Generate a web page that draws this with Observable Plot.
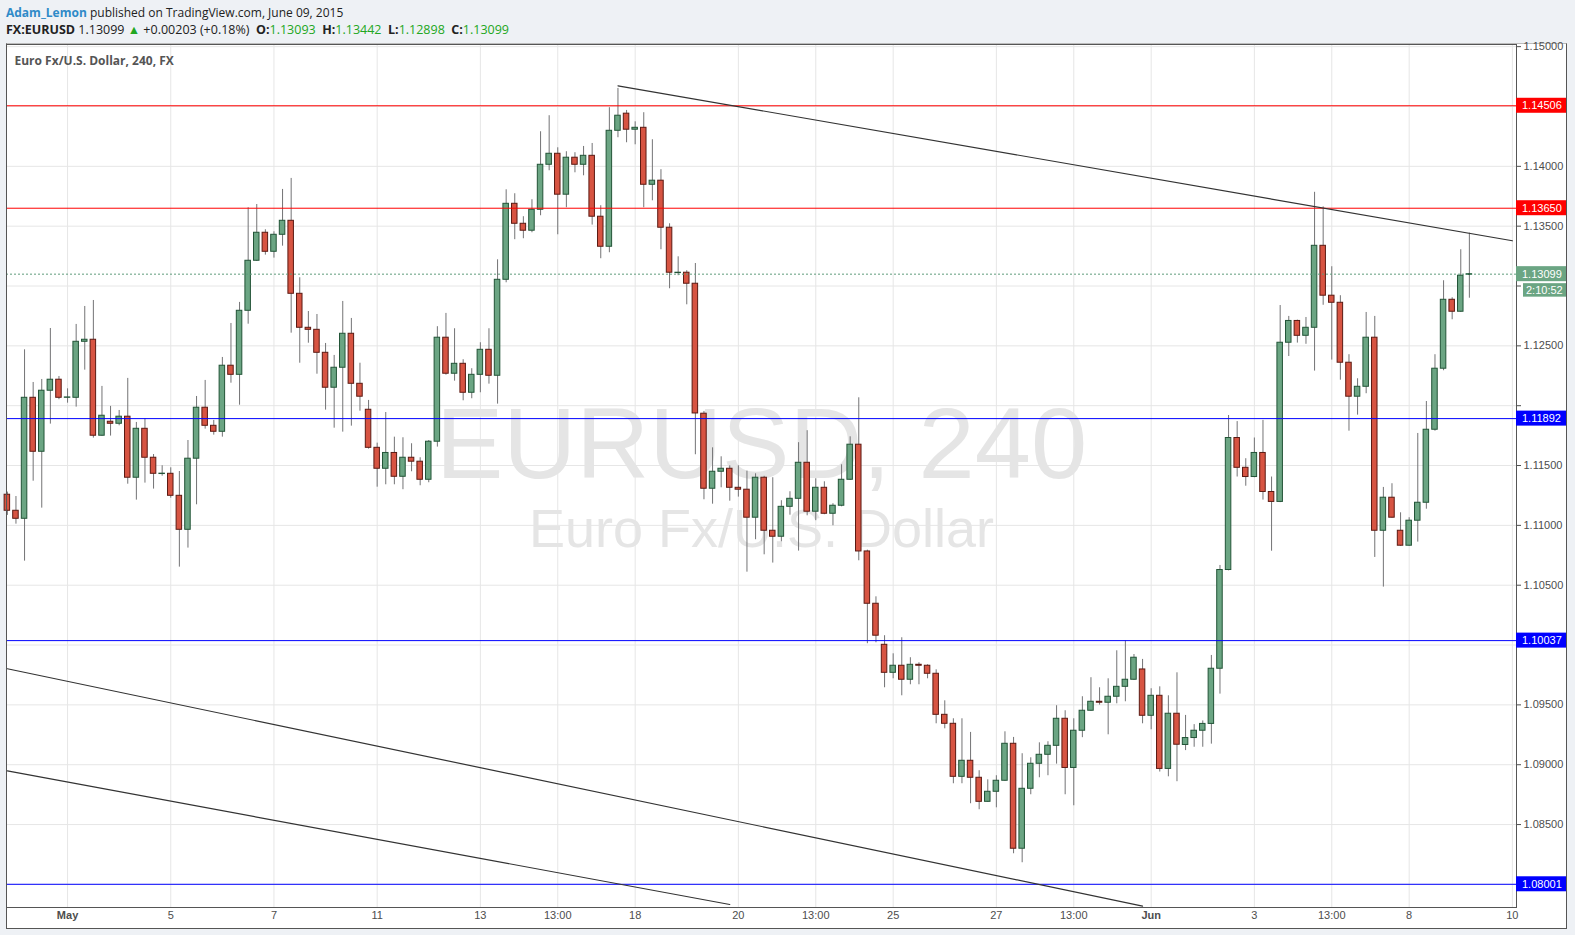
<!DOCTYPE html>
<html>
<head>
<meta charset="utf-8">
<script src="https://cdn.jsdelivr.net/npm/d3@7"></script>
<script src="https://cdn.jsdelivr.net/npm/@observablehq/plot@0.6"></script>
<style>
  html, body { margin: 0; padding: 0; }
  body { width: 1575px; height: 935px; background: #eef1f5; position: relative; overflow: hidden; font-family: "Liberation Sans Narrow", "Open Sans", sans-serif; }
  .l1 { position: absolute; left: 6px; top: 4px; font-size: 12px; color: #222; white-space: nowrap; }
  .l1 .user { color: #2f8ac8; font-weight: bold; }
  .l2 { position: absolute; left: 6px; top: 21px; font-size: 12.5px; color: #222; white-space: nowrap; }
  .l2 b { font-weight: bold; }
  .l2 .g { color: #22a722; }
  .box { position: absolute; left: 6px; top: 43px; width: 1561px; height: 886px; box-sizing: border-box; border: 1px solid #555; border-top-color: #bbb; background: #fff; }
  #chart { position: absolute; left: 0; top: 43px; }
</style>
</head>
<body>
<div class="l1"><span class="user">Adam_Lemon</span> published on TradingView.com, June 09, 2015</div>
<div class="l2"><b>FX:EURUSD</b> 1.13099 <span class="g">&#9650;</span> +0.00203 (+0.18%) &nbsp;<b>O:</b><span class="g">1.13093</span> &nbsp;<b>H:</b><span class="g">1.13442</span> &nbsp;<b>L:</b><span class="g">1.12898</span> &nbsp;<b>C:</b><span class="g">1.13099</span></div>
<div class="box"></div>
<div id="chart"></div>
<script>
// ---- Data (EUR/USD, 240-minute candles) ----
const opens = [1.11256,1.11122,1.11055,1.12066,1.11615,1.12125,1.12217,1.12066,1.12066,1.12534,
1.12551,1.11749,1.11866,1.11849,1.11908,1.11398,1.11807,1.11565,1.11429,1.11431,
1.11247,1.10963,1.11557,1.11983,1.11832,1.11782,1.12334,1.12258,1.12793,1.13211,
1.13445,1.13286,1.13428,1.13545,1.12935,1.12651,1.12634,1.12442,1.12150,1.12317,
1.12601,1.12183,1.11966,1.11648,1.11473,1.11605,1.11406,1.11565,1.11532,1.11381,
1.11699,1.12568,1.12267,1.12350,1.12108,1.12258,1.12467,1.12250,1.13052,1.13687,
1.13520,1.13462,1.13637,1.14013,1.14105,1.13763,1.14072,1.14013,1.14088,1.13579,
1.13328,1.14297,1.14440,1.14306,1.14322,1.13846,1.13880,1.13487,1.13108,1.13111,
1.13019,1.11933,1.11306,1.11448,1.11473,1.11314,1.11298,1.11064,1.11398,1.10955,
1.10905,1.11155,1.11222,1.11523,1.11114,1.11314,1.11097,1.11164,1.11381,1.11674,
1.10782,1.10345,1.10002,1.09768,1.09827,1.09710,1.09835,1.09827,1.09760,1.09417,
1.09342,1.08899,1.09033,1.08891,1.08690,1.08774,1.08866,1.09175,1.08298,1.08799,
1.09008,1.09083,1.09158,1.09384,1.08973,1.09284,1.09451,1.09526,1.09518,1.09568,
1.09651,1.09710,1.09796,1.09409,1.09576,1.08965,1.09426,1.09165,1.09223,1.09284,
1.09341,1.09802,1.10627,1.11730,1.11481,1.11404,1.11605,1.11279,1.11196,1.12526,
1.12708,1.12584,1.12651,1.13336,1.12919,1.12860,1.12359,1.12075,1.12158,1.12568,
1.10955,1.11231,1.10955,1.10830,1.11039,1.11189,1.11799,1.12309,1.12885,1.12785,
1.13093];
const highs = [1.11278,1.11241,1.12467,1.12194,1.12219,1.12645,1.12244,1.12141,1.12679,1.12829,
1.12879,1.12161,1.11994,1.11960,1.12228,1.11860,1.11891,1.11592,1.11498,1.11481,
1.11450,1.11709,1.12077,1.12211,1.11877,1.12403,1.12687,1.12863,1.13654,1.13681,
1.13470,1.13453,1.13807,1.13899,1.13069,1.12787,1.12762,1.12520,1.12420,1.12871,
1.12729,1.12355,1.12044,1.11687,1.11943,1.11737,1.11732,1.11682,1.11565,1.11709,
1.12660,1.12771,1.12643,1.12384,1.12309,1.12526,1.12643,1.13219,1.13804,1.13771,
1.13579,1.13721,1.14289,1.14423,1.14155,1.14122,1.14114,1.14166,1.14191,1.13671,
1.14490,1.14651,1.14467,1.14372,1.14448,1.14222,1.13972,1.13520,1.13244,1.13128,
1.13188,1.11952,1.11648,1.11573,1.11498,1.11498,1.11453,1.11431,1.11410,1.11398,
1.11206,1.11281,1.11691,1.11791,1.11389,1.11364,1.11181,1.11506,1.11740,1.12066,
1.10793,1.10403,1.10078,1.09927,1.10061,1.09894,1.09852,1.09835,1.09793,1.09534,
1.09384,1.09384,1.09270,1.08950,1.08874,1.08908,1.09275,1.09228,1.09092,1.09058,
1.09183,1.09192,1.09493,1.09451,1.09384,1.09568,1.09727,1.09643,1.09718,1.09952,
1.10036,1.09921,1.09880,1.09635,1.09651,1.09576,1.09768,1.09412,1.09335,1.09366,
1.09913,1.10665,1.11918,1.11867,1.11557,1.11730,1.11877,1.11404,1.12837,1.12746,
1.12715,1.12737,1.13783,1.13661,1.13161,1.12919,1.12426,1.12225,1.12779,1.12746,
1.11317,1.11348,1.11105,1.11064,1.11768,1.12035,1.12426,1.13044,1.12902,1.13303,
1.13442];
const lows = [1.11083,1.11010,1.10701,1.11369,1.11144,1.11846,1.12050,1.12021,1.11988,1.12297,
1.11729,1.11745,1.11746,1.11832,1.11344,1.11211,1.11353,1.11303,1.11411,1.11227,
1.10651,1.10810,1.11172,1.11804,1.11754,1.11737,1.12188,1.12004,1.12681,1.13205,
1.13258,1.13233,1.13333,1.12606,1.12355,1.12522,1.12263,1.11963,1.11812,1.11779,
1.11829,1.11954,1.11637,1.11319,1.11339,1.11339,1.11298,1.11448,1.11331,1.11356,
1.11654,1.12255,1.12205,1.12041,1.12058,1.12108,1.12180,1.12013,1.13027,1.13387,
1.13395,1.13445,1.13587,1.13963,1.13428,1.13654,1.13946,1.13921,1.13509,1.13228,
1.13278,1.14239,1.14197,1.14180,1.13654,1.13712,1.13303,1.12977,1.13086,1.12843,
1.11590,1.11214,1.11177,1.11314,1.11202,1.11236,1.10609,1.10880,1.10754,1.10685,
1.10863,1.11085,1.10785,1.11080,1.11039,1.11089,1.10997,1.11155,1.11375,1.10704,
1.10011,1.10019,1.09643,1.09718,1.09576,1.09668,1.09668,1.09718,1.09342,1.09300,
1.08841,1.08841,1.08674,1.08624,1.08685,1.08640,1.08860,1.08256,1.08181,1.08749,
1.08891,1.08908,1.09005,1.08749,1.08657,1.09226,1.09445,1.09498,1.09250,1.09509,
1.09526,1.09705,1.09342,1.09292,1.08939,1.08899,1.08858,1.09118,1.09146,1.09146,
1.09172,1.09590,1.10620,1.11404,1.11327,1.11398,1.11211,1.10784,1.11190,1.12411,
1.12523,1.12513,1.12289,1.12839,1.12381,1.12213,1.11787,1.11921,1.12100,1.10732,
1.10484,1.11060,1.10825,1.10825,1.10860,1.11135,1.11787,1.12292,1.12718,1.12780,
1.12898];
const closes = [1.11122,1.11055,1.12066,1.11615,1.12125,1.12217,1.12066,1.12069,1.12534,1.12551,
1.11749,1.11916,1.11849,1.11908,1.11398,1.11807,1.11565,1.11431,1.11432,1.11247,
1.10963,1.11557,1.11983,1.11832,1.11782,1.12334,1.12258,1.12793,1.13211,1.13445,
1.13286,1.13428,1.13545,1.12935,1.12651,1.12634,1.12442,1.12150,1.12317,1.12601,
1.12183,1.12075,1.11648,1.11473,1.11605,1.11406,1.11565,1.11532,1.11381,1.11699,
1.12568,1.12267,1.12350,1.12108,1.12258,1.12467,1.12250,1.13052,1.13687,1.13520,
1.13462,1.13637,1.14013,1.14105,1.13763,1.14072,1.14013,1.14088,1.13579,1.13328,
1.14297,1.14423,1.14306,1.14322,1.13846,1.13880,1.13487,1.13111,1.13111,1.13019,
1.11935,1.11306,1.11448,1.11473,1.11314,1.11298,1.11064,1.11398,1.10955,1.10905,
1.11155,1.11222,1.11523,1.11114,1.11314,1.11097,1.11164,1.11381,1.11674,1.10782,
1.10345,1.10078,1.09768,1.09827,1.09710,1.09835,1.09827,1.09760,1.09417,1.09342,
1.08899,1.09033,1.08891,1.08690,1.08774,1.08866,1.09175,1.08298,1.08799,1.09008,
1.09083,1.09158,1.09384,1.08973,1.09284,1.09451,1.09526,1.09518,1.09568,1.09651,
1.09710,1.09894,1.09409,1.09576,1.08965,1.09426,1.09167,1.09223,1.09284,1.09341,
1.09802,1.10627,1.11730,1.11481,1.11404,1.11605,1.11279,1.11196,1.12526,1.12708,
1.12584,1.12651,1.13336,1.12919,1.12860,1.12359,1.12075,1.12158,1.12568,1.10955,
1.11231,1.11064,1.10830,1.11039,1.11189,1.11799,1.12309,1.12885,1.12785,1.13086,
1.13099];

// x axis: candle index of each time label
const xTickIdx = [7, 19, 31, 43, 55, 64, 73, 85, 94, 103, 115, 124, 133, 145, 154, 163, 175];
const xTickLabels = ["May", "5", "7", "11", "13", "13:00", "18", "20", "13:00", "25", "27", "13:00", "Jun", "3", "13:00", "8", "10"];
const monthLabels = ["May", "Jun"];

// y axis
const yTicks = [1.08, 1.085, 1.09, 1.095, 1.10, 1.105, 1.11, 1.115, 1.12, 1.125, 1.13, 1.135, 1.14, 1.145, 1.15];
const yHiddenLabels = [1.08, 1.10, 1.12, 1.13, 1.145];
const yDomain = [1.07807, 1.15018];
const xDomain = [-0.1, 175.48];

// horizontal levels and drawings
const resistanceLevels = [1.14506, 1.13650];
const supportLevels = [1.11892, 1.10037, 1.08001];
const lastPrice = 1.13099;
const countdown = "2:10:52";
const upperTrend = [{i: 71, p: 1.14673}, {i: 175, p: 1.13378}];
const lowerTrendA = [{i: 0, p: 1.09802}, {i: 132, p: 1.07818}];
const lowerTrendB = [{i: 0, p: 1.08948}, {i: 84, p: 1.07832}];

const symbolWatermark = "EURUSD, 240";
const nameWatermark = "Euro Fx/U.S. Dollar";
const chartTitle = "Euro Fx/U.S. Dollar, 240, FX";

// ---- Build ----
const candles = opens.map((o, i) => ({i, open: o, high: highs[i], low: lows[i], close: closes[i], up: closes[i] >= o}));
const xTicks = xTickIdx.map((i, k) => ({i, label: xTickLabels[k], month: monthLabels.includes(xTickLabels[k])}));
const fmt = d3.format(".5f");

const tagItems = [
  ...resistanceLevels.map(p => ({price: p, text: fmt(p), fill: "#ff0000"})),
  ...supportLevels.map(p => ({price: p, text: fmt(p), fill: "#0000ff"})),
  {price: lastPrice, text: fmt(lastPrice), fill: "#6ba583"}
];

function priceTags(index, scales, values, dims) {
  const g = d3.create("svg:g")
    .attr("font-family", "'Liberation Sans', Arial, sans-serif")
    .attr("font-size", 11)
    .attr("text-anchor", "start");
  const x0 = dims.width - dims.marginRight;
  for (const t of tagItems) {
    const y = scales.y(t.price);
    g.append("rect").attr("x", x0).attr("y", y - 7.5).attr("width", 50).attr("height", 15).attr("fill", t.fill);
    g.append("text").attr("x", x0 + 6).attr("y", y).attr("dy", "0.35em").attr("text-anchor", "start").attr("fill", "#fff").text(t.text);
  }
  const yc = scales.y(lastPrice);
  g.append("rect").attr("x", x0 + 7).attr("y", yc + 9.5).attr("width", 43).attr("height", 13.5).attr("fill", "#6ba583");
  g.append("text").attr("x", x0 + 10).attr("y", yc + 16.3).attr("dy", "0.35em").attr("text-anchor", "start").attr("fill", "#fff").text(countdown);
  return g.node();
}

const chart = Plot.plot({
  width: 1575,
  height: 892,
  marginLeft: 6,
  marginRight: 59,
  marginTop: 1,
  marginBottom: 28,
  style: {background: "transparent", fontFamily: "'Liberation Sans', Arial, sans-serif", fontSize: "11px", color: "#4d4d4d", overflow: "visible"},
  x: {domain: xDomain, axis: null},
  y: {domain: yDomain, axis: "right", ticks: yTicks, tickSize: 4, tickPadding: 3, label: null,
      tickFormat: d => yHiddenLabels.some(h => Math.abs(h - d) < 1e-9) ? "" : fmt(d)},
  marks: [
    Plot.ruleY(yTicks, {stroke: "#e6e6e6"}),
    Plot.ruleX(xTickIdx, {stroke: "#e6e6e6"}),
    Plot.text([symbolWatermark], {text: d => d, frameAnchor: "middle", textAnchor: "middle", lineAnchor: "middle", dy: -30, fontSize: 101, fill: "#e5e5e5"}),
    Plot.text([nameWatermark], {text: d => d, frameAnchor: "middle", textAnchor: "middle", lineAnchor: "middle", dy: 54, fontSize: 54, fill: "#e5e5e5"}),
    Plot.text([chartTitle], {text: d => d, frameAnchor: "top-left", textAnchor: "start", lineAnchor: "middle", dx: 8, dy: 17, fontSize: 12, fontWeight: "bold", fill: "#555", fontFamily: "'Liberation Sans Narrow', 'Open Sans', sans-serif"}),
    Plot.ruleX(candles, {x: "i", y1: "low", y2: "high", stroke: "#737375", strokeWidth: 1}),
    Plot.rect(candles, {x1: d => d.i - 0.32, x2: d => d.i + 0.32, y1: "open", y2: "close",
      fill: d => d.up ? "#6ba583" : "#d75442", stroke: d => d.up ? "#225437" : "#5b1a13", strokeWidth: 1}),
    Plot.ruleY(resistanceLevels, {stroke: "#ff0000", strokeWidth: 1}),
    Plot.ruleY(supportLevels, {stroke: "#0000ff", strokeWidth: 1}),
    Plot.ruleY([lastPrice], {stroke: "#5f9c7b", strokeDasharray: "2,2", strokeWidth: 1}),
    Plot.line(upperTrend, {x: "i", y: "p", stroke: "#333", strokeWidth: 1.2, clip: true}),
    Plot.line(lowerTrendA, {x: "i", y: "p", stroke: "#333", strokeWidth: 1.2, clip: true}),
    Plot.line(lowerTrendB, {x: "i", y: "p", stroke: "#333", strokeWidth: 1.2, clip: true}),
    Plot.frame({stroke: "#555"}),
    Plot.text(xTicks.filter(d => !d.month), {x: "i", text: "label", frameAnchor: "bottom", lineAnchor: "middle", dy: 8, fontSize: 11, fill: "#4d4d4d"}),
    Plot.text(xTicks.filter(d => d.month), {x: "i", text: "label", frameAnchor: "bottom", lineAnchor: "middle", dy: 8, fontSize: 11, fontWeight: "bold", fill: "#4d4d4d"}),
    priceTags
  ]
});
document.getElementById("chart").appendChild(chart);
</script>
</body>
</html>
